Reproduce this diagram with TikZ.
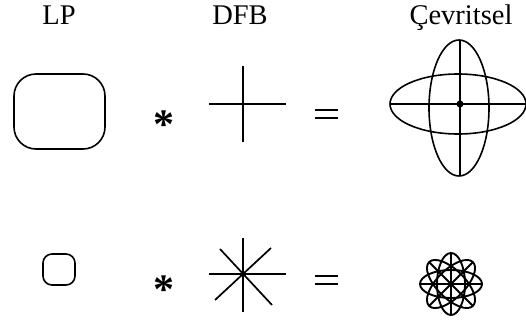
\documentclass[tikz,border=0pt]{standalone}
\usepackage{fontspec}
\setmainfont{Liberation Serif}
\tikzset{
  shapeline/.style={line width=1.6pt, black},
  filterline/.style={line width=1.7pt, black},
  flowerline/.style={line width=1.9pt, black},
  headlabel/.style={font=\fontsize{28.5}{32}\selectfont, inner sep=0pt, anchor=base},
  opstar/.style={font=\fontsize{42}{42}\selectfont\bfseries, inner sep=0pt},
}
\begin{document}
\begin{tikzpicture}[x=1pt,y=-1pt]
    \useasboundingbox (0,0) rectangle (526,320);

    % Headings
    \node[headlabel] (lp) at (59,25) {LP};
    \node[headlabel] (dfb) at (240,25) {DFB};
    \node[headlabel] (cevre) at (461,25) {Çevritsel};

    % Upper row
    \draw[shapeline, rounded corners=22pt] (14,74) rectangle (105,149);
    \node[opstar] (staro) at (164,125) {*};
    \draw[filterline] (209,104) -- (286,104);
    \draw[filterline] (243,66) -- (243,142);
    \draw[filterline] (315,110) -- (338,110);
    \draw[filterline] (315,118) -- (338,118);
    \draw[shapeline] (458,104) ellipse (68 and 30);
    \draw[shapeline] (459,108) ellipse (30 and 68);
    \draw[filterline] (391,104) -- (526,104);
    \draw[filterline] (460,40) -- (460,176);
    \fill (460,104) circle (3.5);

    % Lower row
    \draw[shapeline, rounded corners=9pt] (43,254) rectangle (75,285);
    \node[opstar] (start) at (164,290) {*};
    \draw[filterline] (209,274) -- (286,274);
    \draw[filterline] (243,238) -- (243,312);
    \draw[filterline] (220,249) -- (272,305);
    \draw[filterline] (271,248) -- (215,300);
    \draw[filterline] (315,276) -- (338,276);
    \draw[filterline] (315,284) -- (338,284);
    \foreach \ang in {0,45,90,135} {
        \draw[flowerline, rotate around={\ang:(451,284)}] (451,284) ellipse (31 and 14);
        \draw[flowerline, rotate around={\ang:(451,284)}] (420,284) -- (482,284);
    }
\end{tikzpicture}
\end{document}
